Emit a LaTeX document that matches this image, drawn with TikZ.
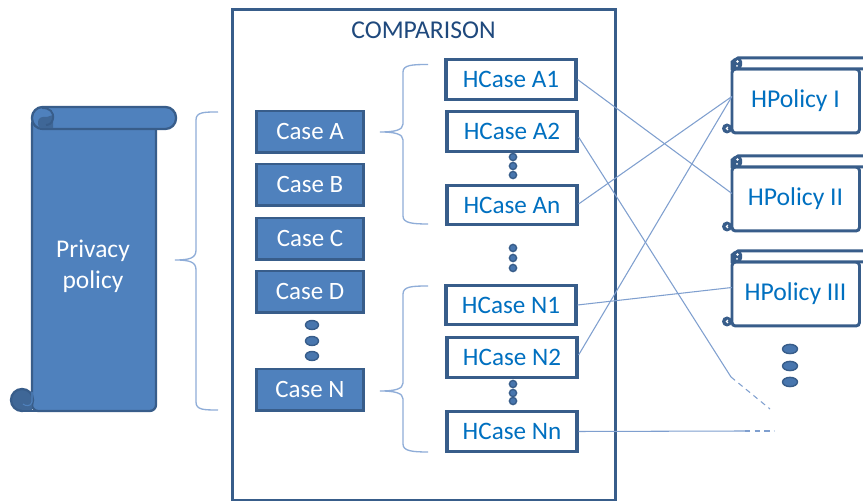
\documentclass[tikz,border=0pt]{standalone}
\usepackage{fontspec}
\setmainfont{Carlito}
\usetikzlibrary{calc}
\definecolor{fillb}{HTML}{4F81BD}
\definecolor{edgeb}{HTML}{385D8A}
\definecolor{shadeb}{HTML}{3F6797}
\definecolor{textb}{HTML}{0070C0}
\definecolor{titleb}{HTML}{1F497D}
\definecolor{linkb}{HTML}{7F9FCF}
\definecolor{braceb}{HTML}{8FADD8}
\tikzset{
  casebox/.style={draw=edgeb,fill=fillb,line width=1.3pt,text=white,minimum width=61pt,minimum height=23.5pt,inner sep=0pt,font=\fontsize{14.2}{16}\selectfont},
  hcase/.style={draw=edgeb,fill=white,line width=1.8pt,text=textb,minimum width=74pt,minimum height=22.6pt,inner sep=0pt,font=\fontsize{14.3}{16}\selectfont},
  hbody/.style={draw=none,text=textb,minimum width=72pt,minimum height=36pt,inner sep=0pt,font=\fontsize{14.6}{16}\selectfont},
  link/.style={draw=linkb,line width=0.6pt},
  openlink/.style={draw=linkb,line width=0.6pt,dash pattern=on 3pt off 2.5pt},
  curly/.style={draw=braceb,line width=0.75pt},
  dotb/.style={draw=edgeb,fill=fillb!70!edgeb,line width=0.8pt},
  rollline/.style={draw=edgeb,line width=1.3pt},
  polline/.style={draw=edgeb,line width=1.7pt}
}
\newcommand{\hpol}[3]{% name, top y, text
  \draw[polline,fill=white,rounded corners=2pt] (732,#2+11) -- (732,#2+75) -- (859.5,#2+75) -- (859.5,#2+11) -- cycle;
  \draw[polline,fill=white] (870,#2) -- (738,#2) -- (732,#2+4) -- (732,#2+11) -- (870,#2+11);
  \fill[edgeb,rounded corners=2pt] (732,#2) rectangle (742,#2+11);
  \fill[white] (737.5,#2+3.5) circle (1.3);
  \fill[white] (737,#2+8) circle (1);
  \fill[edgeb] (727,#2+70.5) circle (5);
  \fill[white] (727.5,#2+70.5) circle (1.8);
  \fill[edgeb] (729,#2+70.5) circle (1.5);
  \node[hbody] (#1) at (795.5,#2+42.5) {#3};
}
\begin{document}
\begin{tikzpicture}[x=0.02cm,y=-0.02cm]
\useasboundingbox (0,0) rectangle (863,502);
\fill[white] (0,0) rectangle (863,502);
% outer frame
\node[draw=edgeb,line width=1.7pt,minimum width=217.7pt,minimum height=278.9pt,inner sep=0pt] (frame) at (424,255) {};
\node[text=titleb,inner sep=0pt,font=\fontsize{14.6}{16}\selectfont] (title) at (423.5,30) {COMPARISON};
% scroll
\draw[rollline,fill=fillb,rounded corners=3.5pt] (32,118) -- (32,411) -- (156,411) -- (156,118) -- cycle;
\draw[rollline,fill=shadeb] (22,400) circle (11);
\fill[shadeb] (22,411) rectangle (32,400);
\draw[edgeb,line width=1.3pt] (22,411) -- (38,411);
\draw[fillb,line width=0.6pt] (32,392) -- (32,402) .. controls (31,407) and (25,406) .. (23,404);
\draw[rollline,fill=fillb,rounded corners=6pt] (32,107) rectangle (176,129);
\fill[shadeb] (38,122) .. controls (38,118) and (42,116) .. (47,117) -- (53,115) -- (53,129) -- (43,129) .. controls (39,129) and (38,126) .. (38,122) -- cycle;
\draw[edgeb,line width=1.1pt] (42,108) .. controls (50,108) and (54,112) .. (53,119) .. controls (52,124) and (48,125) .. (46,125);
\draw[edgeb,line width=1.3pt] (40,129) -- (165,129);
\node[text=white,align=center,inner sep=0pt,font=\fontsize{14.5}{17.6}\selectfont] (priv) at (93,266.5) {Privacy\\policy};
% left brace
\coordinate (b1tip) at (175,260);
\coordinate (b1top) at (218,112);
\coordinate (b1bot) at (218,410);
\draw[curly] (b1top) .. controls (204,112) and (196,112) .. (196,120) -- (196,250) .. controls (196,258) and (190,260) .. (b1tip) .. controls (190,260) and (196,262) .. (196,270) -- (196,402) .. controls (196,410) and (204,410) .. (b1bot);
% case boxes
\node[casebox] (cA) at (310,132) {\raisebox{-0.5pt}{Case A}};
\node[casebox] (cB) at (310,185) {\raisebox{-0.5pt}{Case B}};
\node[casebox] (cC) at (310,239) {\raisebox{-0.5pt}{Case C}};
\node[casebox] (cD) at (310,292) {\raisebox{-0.5pt}{Case D}};
\node[casebox] (cN) at (310,390) {\raisebox{-0.5pt}{Case N}};
\foreach \yy in {325,341,356} \draw[dotb] (312,\yy) ellipse (6.5 and 4.5);
% braces
\coordinate (b2tip) at (380,132);
\coordinate (b2top) at (428,64.5);
\coordinate (b2bot) at (428,224);
\draw[curly] (b2top) .. controls (412,64.5) and (403,65) .. (403,72) -- (403,124) .. controls (403,130) and (395,132) .. (b2tip) .. controls (395,132) and (403,134) .. (403,140) -- (403,216) .. controls (403,223) and (412,224) .. (b2bot);
\coordinate (b3tip) at (380,391);
\coordinate (b3top) at (428,286);
\coordinate (b3bot) at (428,452);
\draw[curly] (b3top) .. controls (412,286) and (403,286.5) .. (403,294) -- (403,383) .. controls (403,389) and (395,391) .. (b3tip) .. controls (395,391) and (403,393) .. (403,399) -- (403,444) .. controls (403,451) and (412,452) .. (b3bot);
% hcase boxes
\node[hcase] (hA1) at (511,79.5) {HCase A1};
\node[hcase] (hA2) at (512,131.5) {HCase A2};
\node[hcase] (hAn) at (512,205) {HCase An};
\node[hcase] (hN1) at (511,305) {HCase N1};
\node[hcase] (hN2) at (512,357.5) {HCase N2};
\node[hcase] (hNn) at (512,431.5) {HCase Nn};
\foreach \yy in {157,166,175,248,258,268,384,393,401} \draw[dotb] (513,\yy) circle (3.6);
% policies
\hpol{pI}{58}{HPolicy I}
\hpol{pII}{156}{HPolicy II}
\hpol{pIII}{251}{HPolicy III}
\foreach \yy in {349,366,382} \draw[dotb] (790,\yy) ellipse (7.5 and 4.6);
% connectors
\coordinate (e1) at (731,377);
\coordinate (e2) at (770,409);
\coordinate (e3) at (745,431);
\coordinate (e4) at (774,431);
\draw[link] (hA1.east) -- ($(pII.west)+(0,-5)$);
\draw[link] ($(hA2.east)+(0,5.5)$) -- (e1);
\draw[openlink] (e1) -- (e2);
\draw[link] ($(hAn.east)+(0,-1)$) -- ($(pI.west)+(0,-4)$);
\draw[link] (hN1.east) -- ($(pIII.west)+(0,-6)$);
\draw[link] ($(hN2.east)+(0,-2.5)$) -- ($(pI.west)+(0,-4)$);
\draw[link] (hNn.east) -- (e3);
\draw[openlink] (e3) -- (e4);
\end{tikzpicture}
\end{document}
